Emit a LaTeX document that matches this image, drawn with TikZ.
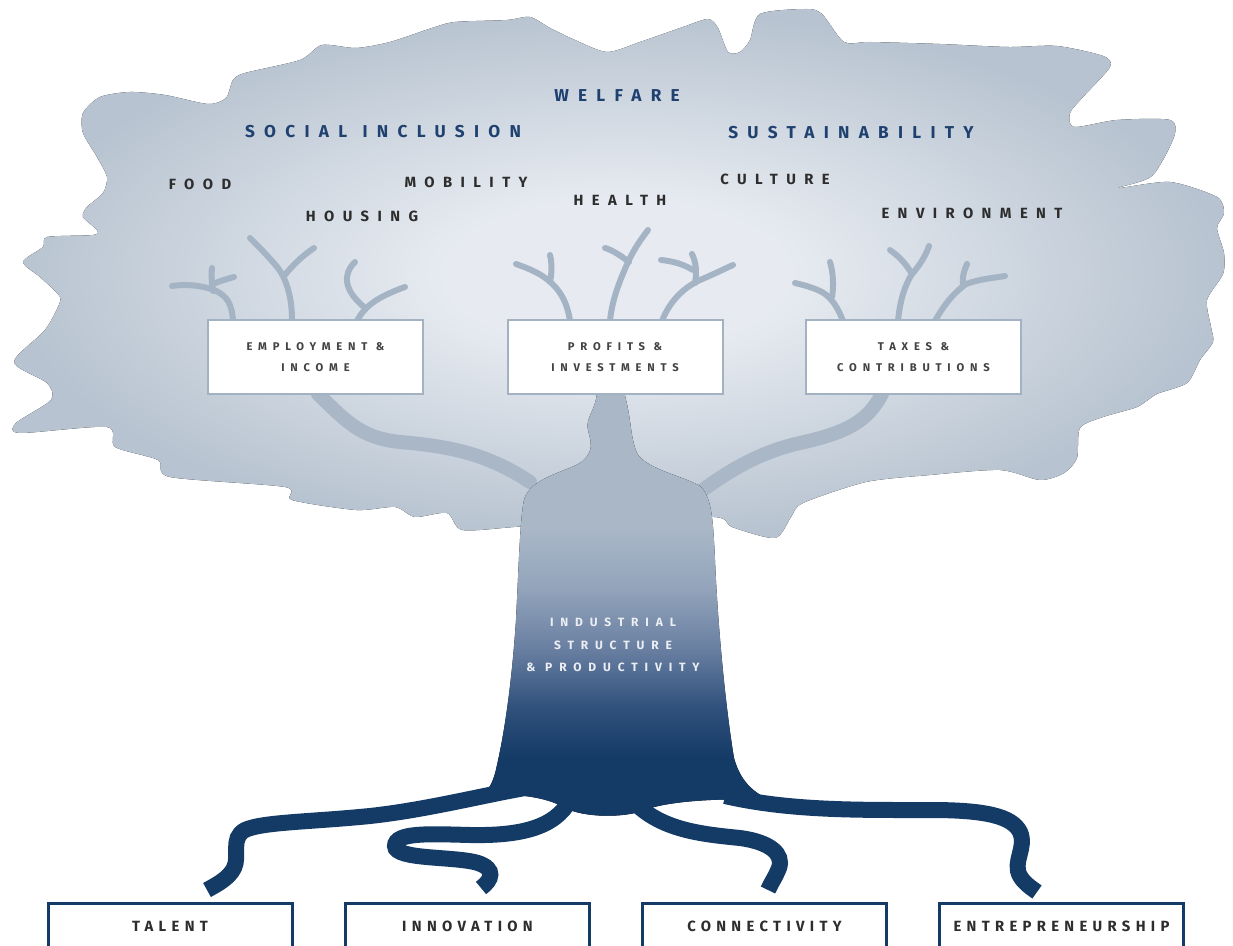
\documentclass[tikz,border=0pt]{standalone}
\usepackage{fontspec}
\newfontfamily\titlefont{Fira Sans}[LetterSpace=54]
\newfontfamily\spacedfont{Fira Sans}[LetterSpace=57]
\newfontfamily\boxfont{Fira Sans}[LetterSpace=52]
\newfontfamily\rootfont{Fira Sans}[LetterSpace=36]

\definecolor{crownedge}{HTML}{B7C3D0}
\definecolor{crownlite}{HTML}{E7EBF1}
\definecolor{branchgrey}{HTML}{A9B7C7}
\definecolor{twiggrey}{HTML}{A5B4C5}
\definecolor{boxedge}{HTML}{A3B2C3}
\definecolor{trunklite}{HTML}{93A4BB}
\definecolor{trunkmid}{HTML}{6A80A2}
\definecolor{trunkdeep}{HTML}{30517C}
\definecolor{rootblue}{HTML}{143A66}
\definecolor{titleblue}{HTML}{1F4170}
\definecolor{labelgrey}{HTML}{2D2D2D}

\pgfdeclareradialshading{crownshade}{\pgfpoint{0bp}{0bp}}{color(0bp)=(crownlite); color(7bp)=(crownlite); color(25bp)=(crownedge); color(50bp)=(crownedge)}
\pgfdeclareverticalshading{trunkshade}{100bp}{color(0bp)=(rootblue); color(32bp)=(rootblue); color(38bp)=(trunkdeep); color(45bp)=(trunkmid); color(52bp)=(trunklite); color(59bp)=(branchgrey); color(100bp)=(branchgrey)}

\tikzset{every picture/.style={line width=0.75pt}}
\tikzset{
  title/.style={text=titleblue, font=\titlefont\bfseries\fontsize{8.6}{10}\selectfont, inner sep=0.75pt},
  topic/.style={text=labelgrey, font=\spacedfont\bfseries\fontsize{7.4}{9}\selectfont, inner sep=0.75pt},
  branch/.style={draw=branchgrey, line width=7pt, line cap=round},
  twig/.style={draw=twiggrey, line width=3pt, line cap=round},
  root/.style={draw=rootblue, line width=8pt},
  flowbox/.style={draw=boxedge, fill=white, line width=1pt, minimum width=107.5pt, minimum height=37pt, align=center, text=labelgrey!90, font=\boxfont\bfseries\fontsize{5.6}{10.5}\selectfont},
  rootbox/.style={draw=rootblue, fill=white, line width=1.5pt, minimum width=122pt, minimum height=23pt, text=labelgrey, font=\rootfont\bfseries\fontsize{7.4}{9}\selectfont}
}

\begin{document}
\begin{tikzpicture}[x=0.5pt,y=0.5pt,yscale=-1,xscale=1]
\useasboundingbox (0,0) rectangle (1233,946);
\clip (0,0) rectangle (1233,946);

%Shape: Crown
\fill [shading=crownshade] plot [smooth cycle, tension=0.45] coordinates {(83,113) (100,97) (130,92) (165,95) (208,104) (226,98) (233,80) (245,73) (300,60) (322,45) (356,48) (390,42) (432,28) (455,22) (507,20) (530,17) (550,28) (575,40) (607,52) (640,42) (683,27) (708,19) (718,28) (728,52) (740,52) (750,40) (760,14) (806,9) (822,14) (844,42) (870,42) (940,44) (1008,47) (1057,46) (1103,56) (1110,67) (1083,97) (1070,113) (1074,127) (1117,120) (1170,120) (1174,137) (1152,176) (1118,188) (1170,182) (1217,197) (1224,213) (1217,228) (1224,253) (1223,274) (1207,300) (1211,327) (1213,342) (1200,360) (1187,383) (1157,394) (1137,407) (1103,417) (1080,428) (1077,458) (1064,473) (1040,480) (1000,470) (930,475) (866,482) (803,503) (791,517) (775,538) (732,527) (714,517) (600,520) (514,527) (462,530) (447,513) (415,517) (395,507) (356,510) (292,500) (285,487) (170,477) (158,460) (115,447) (107,427) (20,433) (16,423) (51,400) (47,383) (14,362) (45,330) (60,302) (57,293) (40,277) (23,262) (43,247) (47,237) (93,235) (97,230) (83,217) (87,207) (103,193) (107,177) (97,157) (83,133)};

%Curve Lines: main branches
\draw [branch] (318,394) .. controls (345,420) and (360,438) .. (400,442) .. controls (445,446) and (485,452) .. (530,482);
\draw [branch] (882,394) .. controls (868,420) and (850,432) .. (800,443) .. controls (760,452) and (730,470) .. (700,492);

%Shape: Trunk
\fill [shading=trunkshade] (597,392) .. controls (596,410) and (585,418) .. (588,430) .. controls (591,442) and (595,452) .. (580,463) .. controls (565,472) and (530,478) .. (524,500) .. controls (520,520) and (519,560) .. (516,620) .. controls (512,680) and (505,730) .. (497,765) .. controls (494,780) and (490,788) .. (484,794) .. controls (515,794) and (545,796) .. (565,808) .. controls (585,818) and (625,818) .. (645,810) .. controls (670,800) and (730,798) .. (770,800) .. controls (752,792) and (740,780) .. (734,758) .. controls (726,710) and (718,630) .. (715,560) .. controls (713,520) and (712,497) .. (700,486) .. controls (680,475) and (650,470) .. (638,455) .. controls (630,440) and (632,420) .. (624,392) -- cycle;

%Curve Lines: twigs over the boxes
\draw [twig] (233,321) .. controls (232,305) and (228,296) .. (214,290) .. controls (200,285) and (185,284) .. (172,286);
\draw [twig] (213,291) .. controls (212,283) and (211,277) .. (212,268);
\draw [twig] (213,284) .. controls (220,281) and (227,279) .. (234,277);
\draw [twig] (292,321) .. controls (292,300) and (288,282) .. (278,268) .. controls (268,256) and (258,246) .. (250,238);
\draw [twig] (284,276) .. controls (292,266) and (302,256) .. (314,248);
\draw [twig] (357,321) .. controls (365,305) and (380,296) .. (405,287);
\draw [twig] (364,307) .. controls (352,297) and (346,287) .. (347,277) .. controls (348,270) and (351,266) .. (355,262);
\draw [twig] (570,321) .. controls (567,300) and (558,288) .. (548,280) .. controls (538,272) and (527,268) .. (516,264);
\draw [twig] (550,282) .. controls (552,272) and (552,264) .. (550,255);
\draw [twig] (610,321) .. controls (612,298) and (622,275) .. (630,258) .. controls (636,246) and (642,238) .. (648,230);
\draw [twig] (629,262) .. controls (620,255) and (612,250) .. (605,248);
\draw [twig] (662,321) .. controls (670,300) and (685,287) .. (700,280) .. controls (712,275) and (722,270) .. (733,265);
\draw [twig] (695,283) .. controls (697,272) and (696,262) .. (692,254);
\draw [twig] (693,270) .. controls (683,264) and (672,261) .. (661,260);
\draw [twig] (843,321) .. controls (838,308) and (832,298) .. (822,292) .. controls (812,287) and (803,285) .. (795,283);
\draw [twig] (832,297) .. controls (834,285) and (833,272) .. (830,262);
\draw [twig] (898,321) .. controls (900,300) and (905,285) .. (912,274) .. controls (905,262) and (897,255) .. (890,250);
\draw [twig] (912,274) .. controls (920,265) and (926,255) .. (929,246);
\draw [twig] (935,321) .. controls (945,303) and (955,292) .. (966,284) .. controls (980,279) and (993,278) .. (1005,276);
\draw [twig] (963,286) .. controls (962,278) and (964,270) .. (967,264);

%Curve Lines: roots
\draw [root] (525,788) .. controls (480,796) and (425,810) .. (370,816) .. controls (310,822) and (262,822) .. (245,830) .. controls (230,838) and (240,856) .. (234,868) .. controls (229,878) and (218,884) .. (207,890);
\draw [root] (570,800) .. controls (555,828) and (520,836) .. (470,835) .. controls (430,834) and (395,832) .. (395,846) .. controls (395,860) and (455,856) .. (478,863) .. controls (496,869) and (492,880) .. (481,888);
\draw [root] (632,800) .. controls (660,830) and (700,834) .. (740,838) .. controls (770,842) and (784,854) .. (779,868) .. controls (775,878) and (771,883) .. (768,890);
\draw [root] (725,796) .. controls (790,811) and (860,810) .. (930,810) .. controls (985,810) and (1012,816) .. (1020,832) .. controls (1027,848) and (1012,862) .. (1020,876) .. controls (1024,883) and (1030,887) .. (1037,892);

% Text Node
\draw (315.5,357) node [flowbox] (employment) {EMPLOYMENT \&\\INCOME};
% Text Node
\draw (615,357) node [flowbox] (profits) {PROFITS \&\\INVESTMENTS};
% Text Node
\draw (913.5,357) node [flowbox] (taxes) {TAXES \&\\CONTRIBUTIONS};

% Text Node
\draw (617,96) node [title] (welfare) {WELFARE};
% Text Node
\draw (383,132) node [title] (inclusion) {SOCIAL\hspace*{0.9em}INCLUSION};
% Text Node
\draw (851,133) node [title] (sustain) {SUSTAINABILITY};
% Text Node
\draw (200,184) node [topic] (food) {FOOD};
% Text Node
\draw (466,182) node [topic] (mobility) {MOBILITY};
% Text Node
\draw (362,216) node [topic] (housing) {HOUSING};
% Text Node
\draw (620,200) node [topic] (health) {HEALTH};
% Text Node
\draw (775,179) node [topic] (culture) {CULTURE};
% Text Node
\draw (972,213) node [topic] (environment) {ENVIRONMENT};

% Text Node
\draw (613,645) node [align=center, text=crownlite!85!white, font=\spacedfont\bfseries\fontsize{6}{11.25}\selectfont] (industry) {INDUSTRIAL\\STRUCTURE\\\& PRODUCTIVITY};

% Text Node
\draw (170,926) node [rootbox] (talent) {TALENT};
% Text Node
\draw (467.5,926) node [rootbox] (innovation) {INNOVATION};
% Text Node
\draw (764.5,926) node [rootbox] (connectivity) {CONNECTIVITY};
% Text Node
\draw (1061.5,926) node [rootbox] (entrepreneur) {ENTREPRENEURSHIP};

\end{tikzpicture}
\end{document}
